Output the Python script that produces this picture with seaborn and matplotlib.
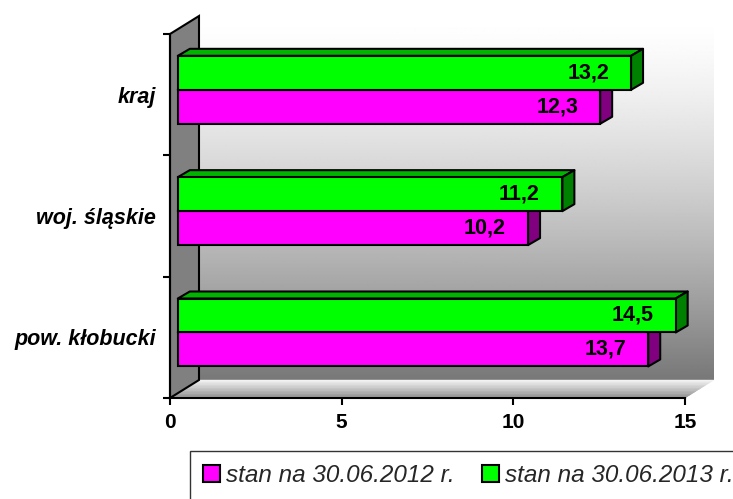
import numpy as np
import pandas as pd
import matplotlib
matplotlib.use('Agg')
import matplotlib.pyplot as plt
from matplotlib.patches import Polygon, Patch
import seaborn as sns


categories = ['pow. kłobucki', 'woj. śląskie', 'kraj']
series = ['stan na 30.06.2012 r.', 'stan na 30.06.2013 r.']
values_2012 = [13.7, 10.2, 12.3]
values_2013 = [14.5, 11.2, 13.2]
x_ticks = [0, 5, 10, 15]

FRONT = {series[0]: '#FF00FF', series[1]: '#00FF00'}
SIDE = {series[0]: '#800080', series[1]: '#008000'}
TOP = {series[0]: '#C000C0', series[1]: '#00B400'}

W, H = 733, 499
X0, X1, Y0, Y1 = 170, 685, 34, 398   # front plane of the plot area, px
WALL_DX, WALL_DY = 29, 18            # depth of the 3d walls, px
BAR_DX, BAR_DY = 12, 7               # depth of a bar, px
BAR_SHIFT = 0.27                     # how deep bars sit into the scene


def back_wall(ax, extent, top=1.0, bottom=0.47, power=1.4):
    t = np.linspace(0, 1, 256) ** power
    col = (top + (bottom - top) * t)[:, None]
    ax.imshow(col, cmap='gray', vmin=0, vmax=1, extent=extent, origin='upper',
              aspect='auto', interpolation='bilinear', zorder=0, clip_on=False)


def floor_strips(ax, xmax, ylo, dx, dy, back=0.97, front=0.55, steps=24):
    # parallelogram floor split in thin strips, light at the back
    for i in range(steps):
        a, b = i / steps, (i + 1) / steps
        g = back + (front - back) * (i + 0.5) / steps
        pts = [(dx * (1 - a), ylo + dy * (1 - a)), (xmax + dx * (1 - a), ylo + dy * (1 - a)),
               (xmax + dx * (1 - b), ylo + dy * (1 - b)), (dx * (1 - b), ylo + dy * (1 - b))]
        ax.add_patch(Polygon(pts, closed=True, fc=(g, g, g), ec=(g, g, g), lw=0.3,
                             zorder=0.5, clip_on=False))


def main():
    sns.set_theme(style='white')
    plt.rcParams['font.family'] = ['Liberation Sans', 'DejaVu Sans']

    df = pd.DataFrame({
        'kategoria': categories * 2,
        'okres': [series[0]] * len(categories) + [series[1]] * len(categories),
        'wartosc': values_2012 + values_2013,
    })

    fig = plt.figure(figsize=(W / 100, H / 100), dpi=100)
    rect = [X0 / W, 1 - Y1 / H, (X1 - X0) / W, (Y1 - Y0) / H]
    xmax = x_ticks[-1]
    n = len(categories)
    ux = (X1 - X0) / xmax
    uy = (Y1 - Y0) / n
    dx, dy = WALL_DX / ux, WALL_DY / uy
    bdx, bdy = BAR_DX / ux, BAR_DY / uy

    # frame: walls, floor, ticks
    ax = fig.add_axes(rect)
    ax.patch.set_visible(False)
    ylo, yhi = -0.5, n - 0.5

    back_wall(ax, [dx, xmax + dx, ylo + dy, yhi + dy])
    floor_strips(ax, xmax, ylo, dx, dy)

    wall = Polygon([(0, ylo), (0, yhi), (dx, yhi + dy), (dx, ylo + dy)], closed=True,
                   fc='#808080', ec='black', lw=1.5, zorder=1, clip_on=False)
    ax.add_patch(wall)

    ax.set_xlim(0, xmax)
    ax.set_ylim(ylo, yhi)
    for s in ['top', 'right']:
        ax.spines[s].set_visible(False)
    for s in ['left', 'bottom']:
        ax.spines[s].set_color('black')
        ax.spines[s].set_linewidth(1.5)
        ax.spines[s].set_zorder(3)

    ax.set_xticks(x_ticks)
    ax.set_xticklabels([str(t) for t in x_ticks], fontsize=15, fontweight='bold')
    ax.set_yticks(np.arange(n + 1) - 0.5)
    ax.set_yticklabels([])
    ax.set_yticks(np.arange(n), minor=True)
    ax.set_yticklabels(categories, minor=True, fontsize=15.5, fontweight='bold',
                       fontstyle='italic')
    ax.tick_params(axis='both', which='major', direction='out', length=5, width=1.5,
                   color='black', bottom=True, left=True)
    ax.tick_params(axis='x', pad=6, labelcolor='black')
    ax.tick_params(axis='y', which='minor', length=0, pad=10, left=True, labelcolor='black')
    ax.set_xlabel('')
    ax.set_ylabel('')

    # bars, drawn in an overlay shifted into the depth of the scene
    bx = fig.add_axes(rect)
    bx.set_zorder(ax.get_zorder() + 1)
    bx.patch.set_visible(False)
    sns.barplot(data=df, y='kategoria', x='wartosc', hue='okres', order=categories,
                hue_order=series, palette=FRONT, orient='h', width=0.56, saturation=1,
                edgecolor='black', linewidth=1.5, legend=False, ax=bx, zorder=2)
    bx.set_xlim(-BAR_SHIFT * dx, xmax - BAR_SHIFT * dx)
    bx.set_ylim(ylo - BAR_SHIFT * dy, yhi - BAR_SHIFT * dy)
    bx.axis('off')

    for cont, s in zip(bx.containers, series):
        for p in cont.patches:
            x0, y0, w, h = p.get_x(), p.get_y(), p.get_width(), p.get_height()
            x1, y1 = x0 + w, y0 + h
            top = Polygon([(x0, y1), (x0 + bdx, y1 + bdy), (x1 + bdx, y1 + bdy), (x1, y1)],
                          closed=True, fc=TOP[s], ec='black', lw=1.5, zorder=1,
                          clip_on=False, joinstyle='round')
            side = Polygon([(x1, y0), (x1, y1), (x1 + bdx, y1 + bdy), (x1 + bdx, y0 + bdy)],
                           closed=True, fc=SIDE[s], ec='black', lw=1.5, zorder=1,
                           clip_on=False, joinstyle='round')
            bx.add_patch(top)
            bx.add_patch(side)
            bx.text(x1 - 1.25, y0 + h / 2, f'{w:.1f}'.replace('.', ','), ha='center',
                    va='center', fontsize=15.5, fontweight='bold', color='black', zorder=4)

    handles = [Patch(fc=FRONT[s], ec='black', lw=1.5) for s in series]
    leg = fig.legend(handles, series, loc='upper left',
                     bbox_to_anchor=(190 / W, 1 - 451 / H), ncol=2, frameon=True,
                     fancybox=False, edgecolor='black',
                     prop=dict(style='italic', size=17.5), handlelength=0.7,
                     handleheight=0.7, handletextpad=0.25, columnspacing=1.1,
                     borderaxespad=0, borderpad=0.55)
    leg.get_frame().set_linewidth(1.0)

    fig.savefig('out.png', dpi=100)


if __name__ == '__main__':
    main()
